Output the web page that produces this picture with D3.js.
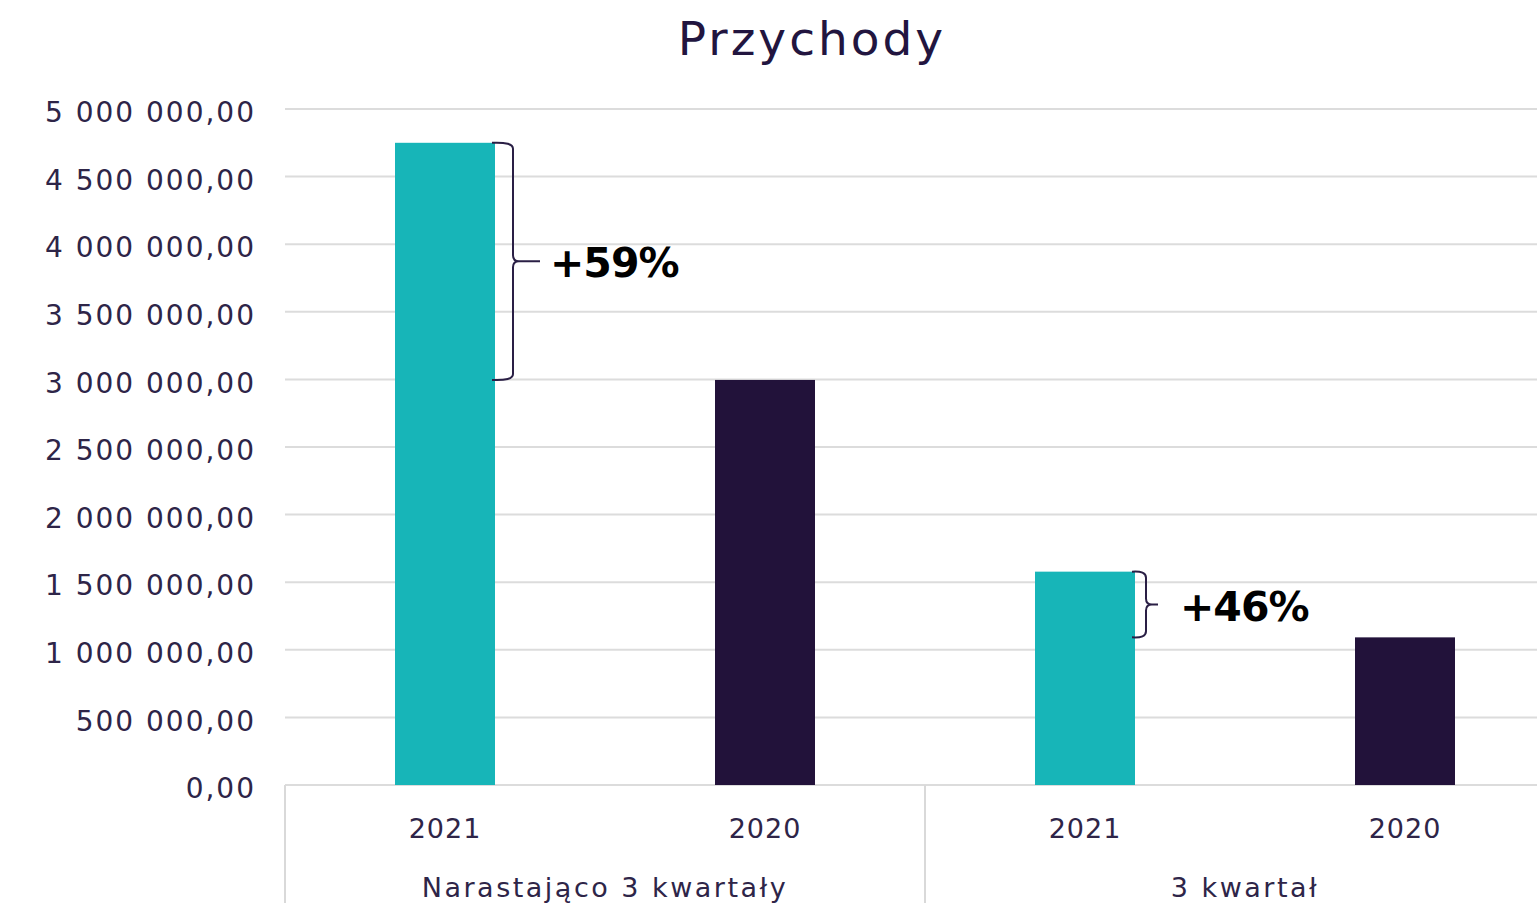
<!DOCTYPE html>
<html>
<head>
<meta charset="utf-8">
<script src="https://cdn.jsdelivr.net/npm/d3@7"></script>
<style>
  body { margin: 0; background: #fff; overflow: hidden; }
  svg text { font-family: "DejaVu Sans", sans-serif; }
</style>
</head>
<body>
<div id="chart"></div>
<script>
var groups = ["Narastająco 3 kwartały", "3 kwartał"];
var years = ["2021", "2020"];
var values2021 = [4750000, 1578000];
var values2020 = [2996000, 1092000];
var changeLabels = ["+59%", "+46%"];
var yTicks = [0, 500000, 1000000, 1500000, 2000000, 2500000, 3000000, 3500000, 4000000, 4500000, 5000000];

var width = 1537, height = 903;
var margin = { top: 109, left: 285, bottom: 118 };
var plotRight = 1565;
var barWidth = 100;
var colors = { "2021": "#17b5b8", "2020": "#22123a" };
var textColor = "#2e2548";

var svg = d3.select("#chart").append("svg")
  .attr("width", width)
  .attr("height", height);

var y = d3.scaleLinear().domain([0, 5000000]).range([height - margin.bottom, margin.top]);
var x0 = d3.scaleBand().domain(groups).range([margin.left, plotRight]);
var x1 = d3.scalePoint().domain(years).range([0, x0.bandwidth()]).padding(0.5);

var fmt = function(v) {
  return d3.format(",.2f")(v).replace(/,/g, " ").replace(".", ",");
};

// gridlines
svg.append("g")
  .selectAll("line")
  .data(yTicks)
  .enter().append("line")
  .attr("x1", margin.left)
  .attr("x2", plotRight)
  .attr("y1", function(d){ return y(d); })
  .attr("y2", function(d){ return y(d); })
  .attr("stroke", "#dcdcdc")
  .attr("stroke-width", 2);

// y axis labels
var yAxis = d3.axisLeft(y).tickValues(yTicks).tickFormat(fmt).tickSize(0).tickPadding(29);
var axisY = svg.append("g")
  .attr("transform", "translate(" + margin.left + ",0)")
  .call(yAxis);
axisY.select(".domain").remove();
axisY.selectAll("text")
  .attr("fill", textColor)
  .attr("dy", "0.45em")
  .style("font-size", "28px")
  .style("letter-spacing", "2px");

// category separators
var seps = groups.map(function(g){ return x0(g); }).concat([plotRight]);
svg.append("g")
  .selectAll("line")
  .data(seps)
  .enter().append("line")
  .attr("x1", function(d){ return d; })
  .attr("x2", function(d){ return d; })
  .attr("y1", y(0))
  .attr("y2", height)
  .attr("stroke", "#d9d9d9")
  .attr("stroke-width", 2);

// data rows
var rows = groups.map(function(g, i) {
  return { group: g, v2021: values2021[i], v2020: values2020[i], label: changeLabels[i] };
});

var gGroup = svg.append("g")
  .selectAll("g")
  .data(rows)
  .enter().append("g")
  .attr("transform", function(d){ return "translate(" + x0(d.group) + ",0)"; });

gGroup.selectAll("rect")
  .data(function(d){ return [{ year: "2021", v: d.v2021 }, { year: "2020", v: d.v2020 }]; })
  .enter().append("rect")
  .attr("x", function(d){ return x1(d.year) - barWidth / 2; })
  .attr("width", barWidth)
  .attr("y", function(d){ return y(d.v); })
  .attr("height", function(d){ return y(0) - y(d.v); })
  .attr("fill", function(d){ return colors[d.year]; });

// year labels
gGroup.selectAll("text.year")
  .data(years)
  .enter().append("text")
  .attr("class", "year")
  .attr("x", function(d){ return x1(d); })
  .attr("y", 838)
  .attr("text-anchor", "middle")
  .attr("fill", textColor)
  .style("font-size", "27px")
  .style("letter-spacing", "1px")
  .text(function(d){ return d; });

// group labels
gGroup.append("text")
  .attr("x", x0.bandwidth() / 2)
  .attr("y", 897)
  .attr("text-anchor", "middle")
  .attr("fill", textColor)
  .style("font-size", "27px")
  .style("letter-spacing", "2.5px")
  .text(function(d){ return d.group; });

// braces with change labels
gGroup.each(function(d) {
  var g = d3.select(this);
  var xr = x1("2021") + barWidth / 2 - 3;
  var yt = y(d.v2021), yb = y(d.v2020);
  var ym = (yt + yb) / 2;
  var h = yb - yt;
  var off = h > 100 ? 21 : 14;
  var tip = h > 100 ? 27 : 12;
  var r = Math.min(6, h / 6);
  var p = d3.path();
  p.moveTo(xr, yt);
  p.quadraticCurveTo(xr + off, yt - 1, xr + off, yt + r);
  p.lineTo(xr + off, ym - r);
  p.quadraticCurveTo(xr + off, ym, xr + off + r, ym);
  p.lineTo(xr + off + tip, ym);
  p.moveTo(xr + off + r, ym);
  p.quadraticCurveTo(xr + off, ym, xr + off, ym + r);
  p.lineTo(xr + off, yb - r);
  p.quadraticCurveTo(xr + off, yb + 1, xr, yb);
  g.append("path")
    .attr("d", p.toString())
    .attr("fill", "none")
    .attr("stroke", "#2a1f45")
    .attr("stroke-width", 2);
  g.append("text")
    .attr("x", xr + off + tip + (h > 100 ? 10 : 22))
    .attr("y", ym + 16)
    .attr("fill", "#000")
    .style("font-size", "41px")
    .style("font-weight", "bold")
    .style("letter-spacing", "-1px")
    .text(d.label);
});

// title
svg.append("text")
  .attr("x", 812)
  .attr("y", 55)
  .attr("text-anchor", "middle")
  .attr("fill", "#22153f")
  .style("font-size", "47px")
  .style("letter-spacing", "3px")
  .text("Przychody");
</script>
</body>
</html>
